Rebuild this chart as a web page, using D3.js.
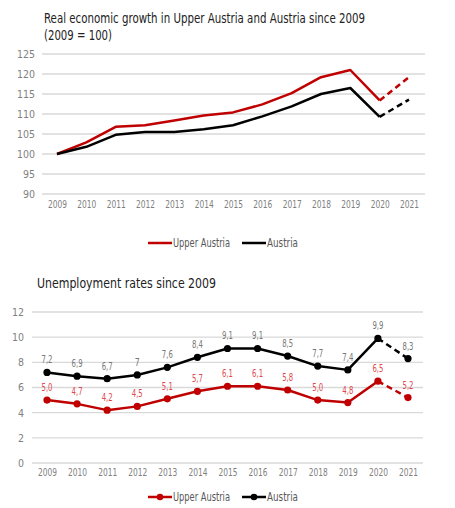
<!DOCTYPE html>
<html><head><meta charset="utf-8">
<script src="https://cdn.jsdelivr.net/npm/d3@7"></script>
<style>
body{margin:0;background:#fff;}
svg text{font-family:"DejaVu Sans Condensed","Liberation Sans Narrow","Roboto",sans-serif;}
</style></head>
<body>
<svg id="c" width="455" height="508"></svg>
<script>
const years = [2009,2010,2011,2012,2013,2014,2015,2016,2017,2018,2019,2020,2021];
const gdpUpper = [100,102.9,106.8,107.2,108.4,109.6,110.4,112.4,115.2,119.2,121.0,113.4,119.2];
const gdpAustria = [100,101.8,104.8,105.5,105.5,106.2,107.2,109.4,111.9,115.0,116.5,109.3,113.6];
const gdpTicks = [90,95,100,105,110,115,120,125];
const unempUpper = [5.0,4.7,4.2,4.5,5.1,5.7,6.1,6.1,5.8,5.0,4.8,6.5,5.2];
const unempAustria = [7.2,6.9,6.7,7.0,7.6,8.4,9.1,9.1,8.5,7.7,7.4,9.9,8.3];
const unempUpperLabels = ["5,0","4,7","4,2","4,5","5,1","5,7","6,1","6,1","5,8","5,0","4,8","6,5","5,2"];
const unempAustriaLabels = ["7,2","6,9","6,7","7","7,6","8,4","9,1","9,1","8,5","7,7","7,4","9,9","8,3"];
const unempTicks = [0,2,4,6,8,10,12];
const seriesNames = ["Upper Austria","Austria"];
const colors = ["#c00000","#000000"];
const labelColors = ["#e0474f","#777777"];

const svg = d3.select("#c");
const gridCol = "#d9d9d9", tickCol = "#7f7f7f";

function drawChart(opt){
  const g = svg.append("g");
  const x = d3.scalePoint().domain(years).range([opt.x0,opt.x1]);
  const y = d3.scaleLinear().domain(opt.domain).range([opt.yb,opt.yt]);
  g.selectAll(".grid").data(opt.ticks).join("line")
    .attr("x1",opt.gx0).attr("x2",opt.gx1)
    .attr("y1",d=>y(d)).attr("y2",d=>y(d))
    .attr("stroke",gridCol).attr("stroke-width",1.3);
  const ya = d3.axisLeft(y).tickValues(opt.ticks).tickSize(0).tickPadding(0);
  const yg = g.append("g").attr("transform",`translate(${opt.ylx},0)`).call(ya);
  yg.select(".domain").remove();
  yg.selectAll("text").attr("fill",tickCol).style("font-size","10.5px");
  const xa = d3.axisBottom(x).tickSize(0).tickPadding(0);
  const xg = g.append("g").attr("transform",`translate(0,${opt.xly})`).call(xa);
  xg.select(".domain").remove();
  xg.selectAll("text").attr("fill",tickCol).style("font-size","10.5px")
    .attr("textLength",19).attr("lengthAdjust","spacingAndGlyphs");
  const lineIdx = d3.line().x(d=>x(years[d[0]])).y(d=>y(d[1]));
  const n = years.length;
  opt.series.forEach((s,k)=>{
    const solid = s.slice(0,n-1).map((v,i)=>[i,v]);
    const dashed = [[n-2,s[n-2]],[n-1,s[n-1]]];
    g.append("path").attr("d",lineIdx(solid)).attr("fill","none")
      .attr("stroke",colors[k]).attr("stroke-width",2.5).attr("stroke-linejoin","round");
    g.append("path").attr("d",lineIdx(dashed)).attr("fill","none")
      .attr("stroke",colors[k]).attr("stroke-width",2.5).attr("stroke-dasharray","6,4");
    if(opt.markers){
      g.selectAll(null).data(s).join("circle")
        .attr("cx",(d,i)=>x(years[i])).attr("cy",d=>y(d)).attr("r",3.6)
        .attr("fill",colors[k]);
      g.selectAll(null).data(opt.labels[k]).join("text")
        .attr("x",(d,i)=>x(years[i])).attr("y",(d,i)=>y(s[i])-9)
        .attr("text-anchor","middle").attr("fill",labelColors[k])
        .style("font-size","10px")
        .attr("textLength",d=>d.length>1?11:5).attr("lengthAdjust","spacingAndGlyphs")
        .text(d=>d);
    }
  });
  const legW = [57,31];
  seriesNames.forEach((nm,k)=>{
    const lx = opt.legX[k];
    g.append("line").attr("x1",lx).attr("x2",lx+24).attr("y1",opt.legY).attr("y2",opt.legY)
      .attr("stroke",colors[k]).attr("stroke-width",2.5);
    if(opt.markers) g.append("circle").attr("cx",lx+12).attr("cy",opt.legY).attr("r",3.3).attr("fill",colors[k]);
    g.append("text").attr("x",lx+25).attr("y",opt.legY).attr("dy","0.35em")
      .attr("fill","#595959").style("font-size","12px")
      .attr("textLength",legW[k]).attr("lengthAdjust","spacingAndGlyphs").text(nm);
  });
}

function title(x,y,w,t){
  svg.append("text").attr("x",x).attr("y",y).attr("fill","#222").style("font-size","14px")
    .attr("textLength",w).attr("lengthAdjust","spacingAndGlyphs").text(t);
}
title(44,23,321,"Real economic growth in Upper Austria and Austria since 2009");
title(44,40,68,"(2009 = 100)");
title(37,288,179,"Unemployment rates since 2009");

drawChart({x0:57,x1:409,domain:[90,125],yb:194,yt:54,gx0:42,gx1:425,ticks:gdpTicks,
  ylx:35,xly:201,series:[gdpUpper,gdpAustria],markers:false,legX:[148,242],legY:243});
drawChart({x0:47,x1:408,domain:[0,12],yb:463,yt:312,gx0:32,gx1:423,ticks:unempTicks,
  ylx:24,xly:469,series:[unempUpper,unempAustria],markers:true,
  labels:[unempUpperLabels,unempAustriaLabels],legX:[148,242],legY:497});
</script>
</body></html>
